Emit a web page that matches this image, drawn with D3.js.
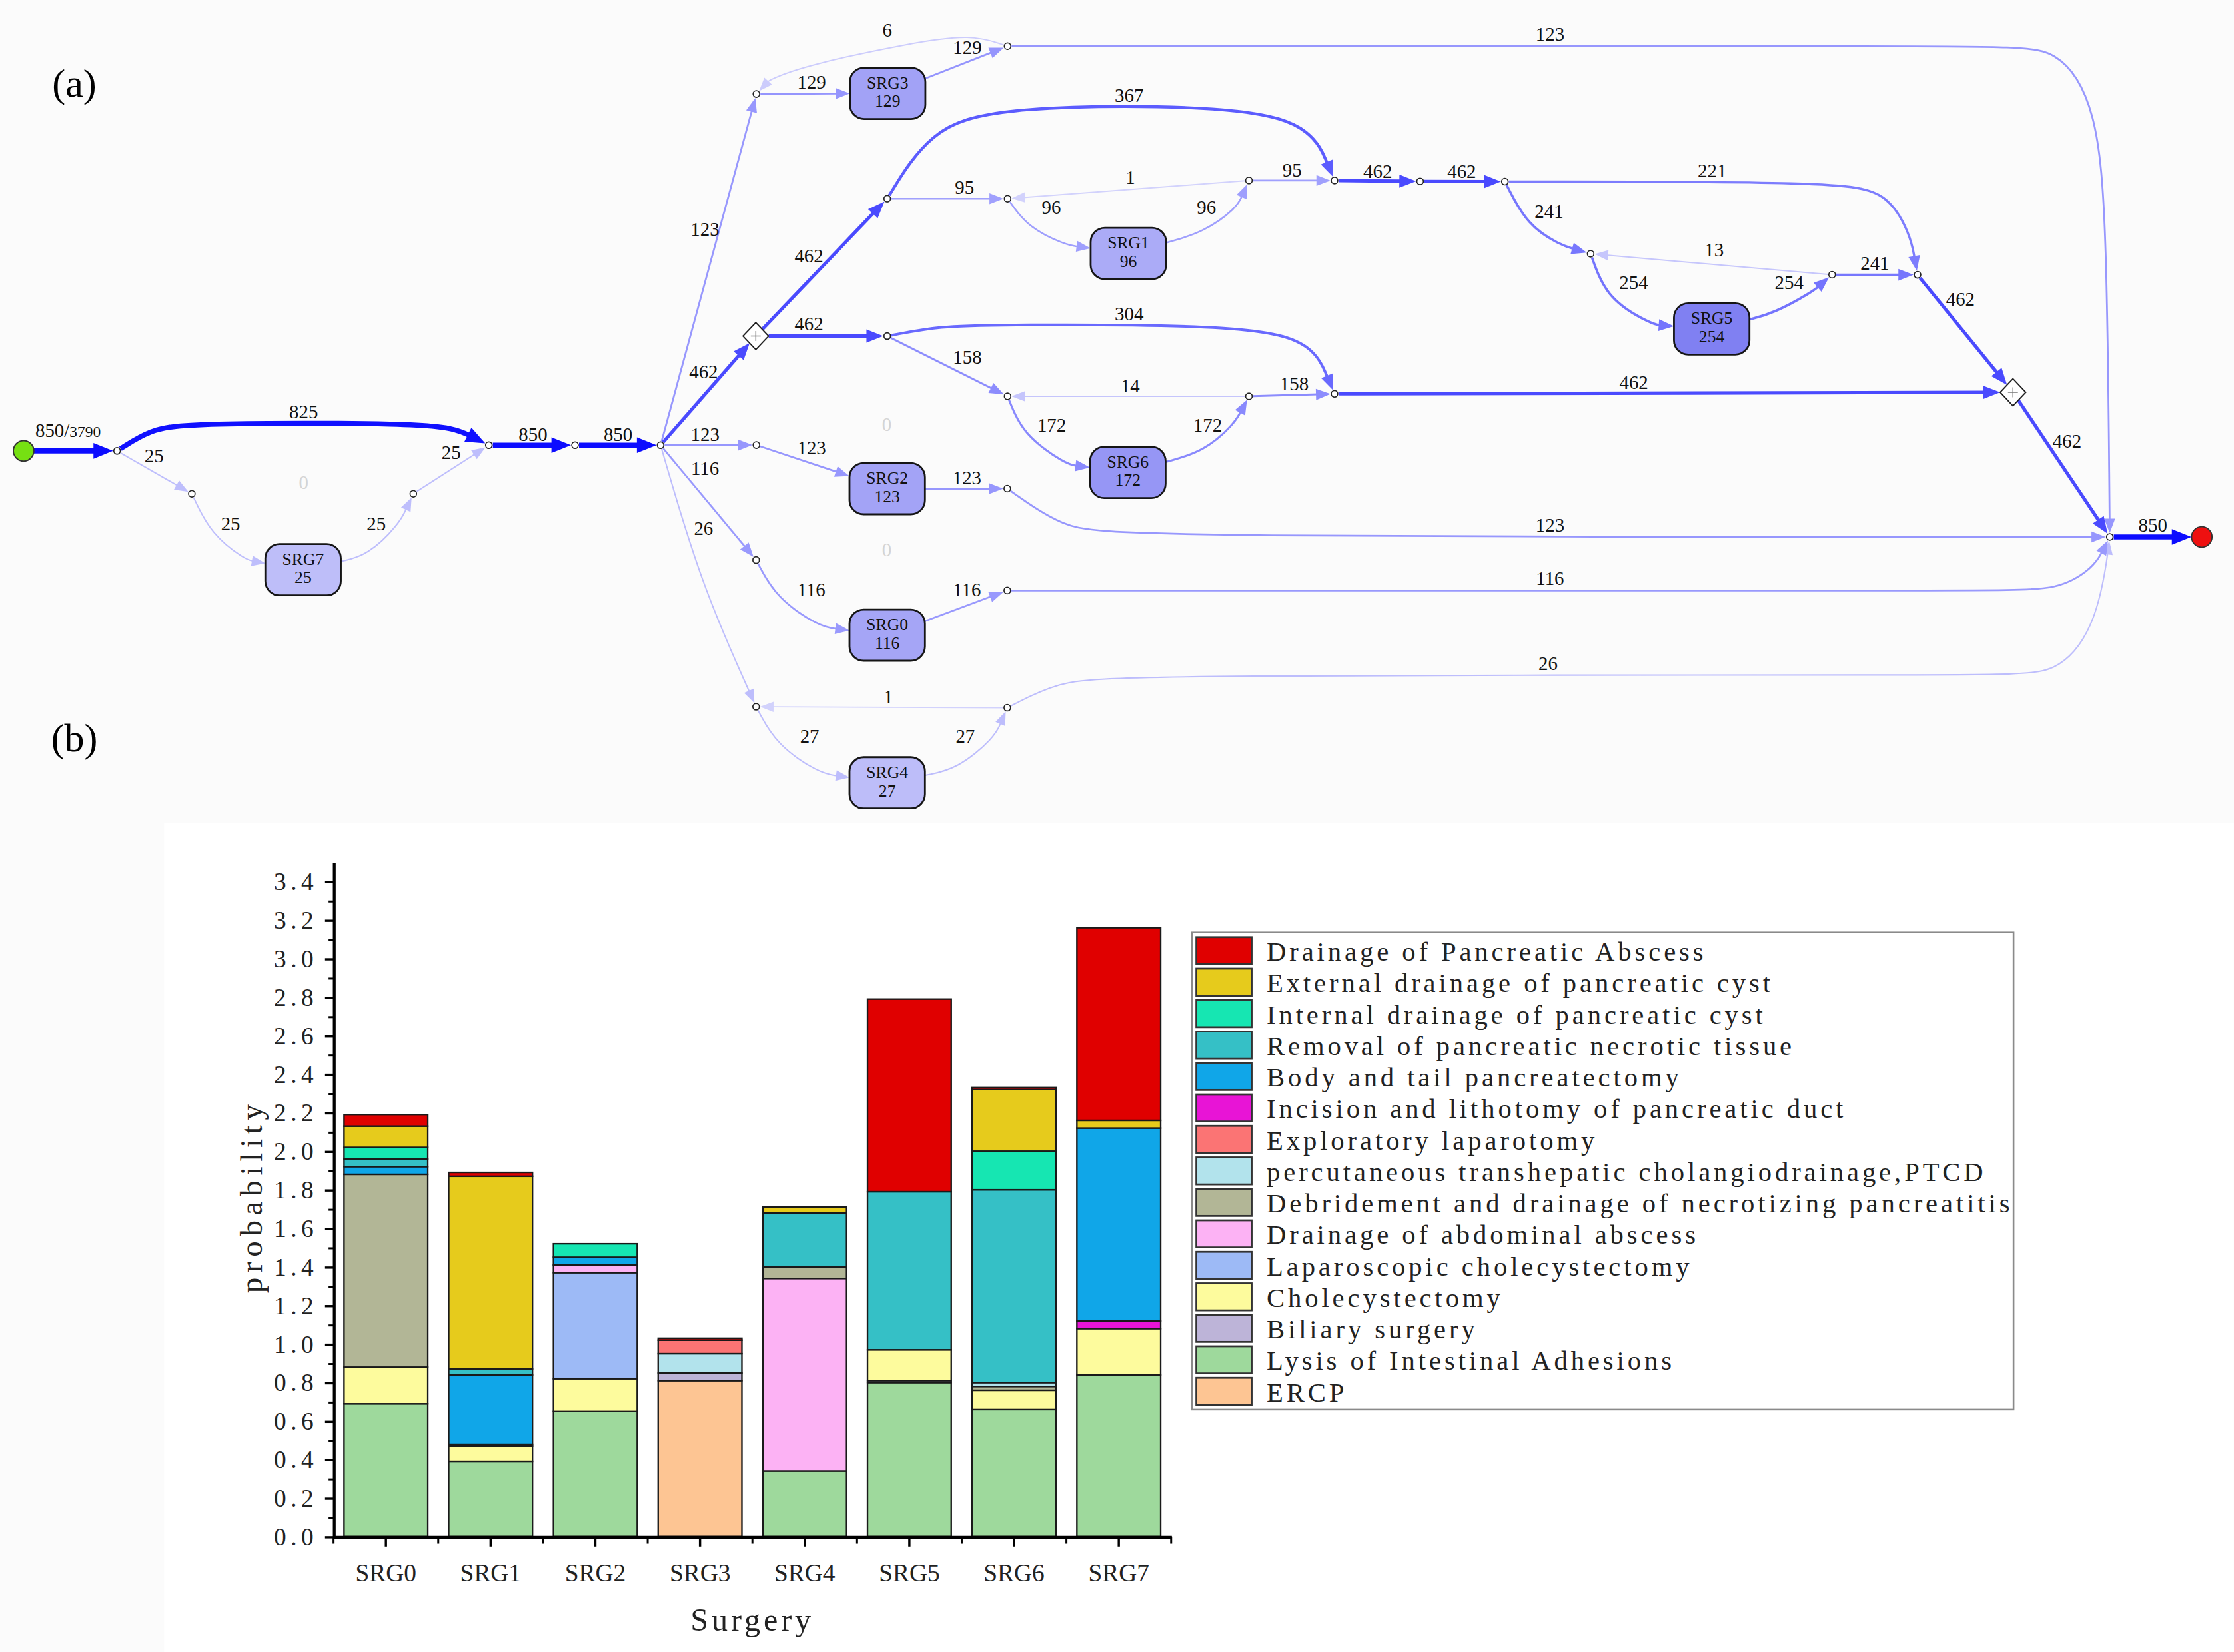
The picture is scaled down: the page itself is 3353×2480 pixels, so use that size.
<!DOCTYPE html>
<html>
<head>
<meta charset="utf-8">
<script src="https://cdn.jsdelivr.net/npm/d3@7"></script>
<style>
body { margin: 0; background: #fbfbfb; }
svg { display: block; }
</style>
</head>
<body>
<script>
// ---- (b) stacked bars: probability of each procedure per surgery cluster
var surgeries = ["SRG0", "SRG1", "SRG2", "SRG3", "SRG4", "SRG5", "SRG6", "SRG7"];
var procedures = [
	"Drainage of Pancreatic Abscess",
	"External drainage of pancreatic cyst",
	"Internal drainage of pancreatic cyst",
	"Removal of pancreatic necrotic tissue",
	"Body and tail pancreatectomy",
	"Incision and lithotomy of pancreatic duct",
	"Exploratory laparotomy",
	"percutaneous transhepatic cholangiodrainage,PTCD",
	"Debridement and drainage of necrotizing pancreatitis",
	"Drainage of abdominal abscess",
	"Laparoscopic cholecystectomy",
	"Cholecystectomy",
	"Biliary surgery",
	"Lysis of Intestinal Adhesions",
	"ERCP"
];
var procColors = ["#e00000", "#e6cb1c", "#16e6b2", "#35c0c6", "#10a6e8", "#e814d6", "#fb7474",
	"#b2e3ec", "#b2b696", "#fcb2f4", "#9dbaf6", "#fdfb9d", "#bdb4d8", "#9ed99c", "#fdc593"];
//one row per procedure, one value per surgery (SRG0..SRG7)
var probValues = [
	[0.06, 0.02, 0,    0.01, 0,    1.00, 0.01, 1.00],
	[0.11, 1.00, 0,    0,    0.03, 0,    0.32, 0.04],
	[0.06, 0,    0.07, 0,    0,    0,    0.20, 0],
	[0.04, 0.03, 0,    0,    0.28, 0.82, 1.00, 0],
	[0.04, 0.36, 0.04, 0,    0,    0,    0,    1.00],
	[0,    0,    0,    0,    0,    0,    0,    0.04],
	[0,    0,    0,    0.07, 0,    0,    0,    0],
	[0,    0,    0,    0.10, 0,    0,    0.02, 0],
	[1.00, 0.01, 0,    0,    0.06, 0,    0.02, 0],
	[0,    0,    0.04, 0,    1.00, 0,    0,    0],
	[0,    0,    0.55, 0,    0,    0,    0,    0],
	[0.19, 0.08, 0.17, 0,    0,    0.16, 0.10, 0.24],
	[0,    0,    0,    0.04, 0,    0.01, 0,    0],
	[0.69, 0.39, 0.65, 0,    0.34, 0.80, 0.66, 0.84],
	[0,    0,    0,    0.81, 0,    0,    0,    0]
];
var yTickValues = [0, 0.2, 0.4, 0.6, 0.8, 1.0, 1.2, 1.4, 1.6, 1.8, 2.0, 2.2, 2.4, 2.6, 2.8, 3.0, 3.2, 3.4];
var yMinorValues = [0.1, 0.3, 0.5, 0.7, 0.9, 1.1, 1.3, 1.5, 1.7, 1.9, 2.1, 2.3, 2.5, 2.7, 2.9, 3.1, 3.3];

// ---- (a) process map: cases per surgery cluster and per arc
var totalTraces = 3790;
var clusterCases = {SRG0: 116, SRG1: 96, SRG2: 123, SRG3: 129, SRG4: 27, SRG5: 254, SRG6: 172, SRG7: 25};
var edges = [
	["start", "a0", 850], ["a0", "a3", 825], ["a0", "a1", 25], ["a1", "SRG7", 25], ["SRG7", "a2", 25],
	["a2", "a3", 25], ["a3", "a4", 850], ["a4", "a5", 850],
	["a5", "b1", 123], ["b1", "SRG3", 129], ["SRG3", "b2", 129], ["b2", "b1", 6], ["b2", "z", 123],
	["a5", "D1", 462], ["D1", "c1", 462], ["c1", "c4", 367], ["c1", "c2", 95], ["c2", "SRG1", 96],
	["SRG1", "c3", 96], ["c3", "c2", 1], ["c3", "c4", 95], ["c4", "c5", 462], ["c5", "c6", 462],
	["c6", "e1", 241], ["c6", "e3", 221], ["e1", "SRG5", 254], ["SRG5", "e2", 254], ["e2", "e1", 13],
	["e2", "e3", 241], ["e3", "D2", 462],
	["D1", "d1", 462], ["d1", "d4", 304], ["d1", "d2", 158], ["d2", "SRG6", 172], ["SRG6", "d3", 172],
	["d3", "d2", 14], ["d3", "d4", 158], ["d4", "D2", 462], ["D2", "z", 462], ["z", "end", 850],
	["a5", "f1", 123], ["f1", "SRG2", 123], ["SRG2", "f2", 123], ["f2", "z", 123],
	["a5", "g1", 116], ["g1", "SRG0", 116], ["SRG0", "g2", 116], ["g2", "z", 116],
	["a5", "h1", 26], ["h1", "SRG4", 27], ["SRG4", "h2", 27], ["h2", "h1", 1], ["h2", "z", 26]
];

// ---- layout of the process map (drawing coordinates, 1568 x 1160 view)
var nodePos = {
	start: [16.4, 316.6], a0: [82, 316.6], a1: [134.5, 346.7], SRG7: [212.6, 400], a2: [290, 346.7],
	a3: [343, 312.6], a4: [403.5, 312.6], a5: [463.5, 312.6],
	b1: [530.8, 66], SRG3: [623, 65.5], b2: [707.2, 32.4],
	D1: [530.4, 236], c1: [622.7, 139.5], c2: [707.2, 139.5], SRG1: [792, 178], c3: [876.6, 126.7],
	c4: [936.7, 126.7], c5: [996.8, 127.3], c6: [1056.3, 127.5], e1: [1116.5, 178.2], SRG5: [1201.5, 231],
	e2: [1286, 192.9], e3: [1346, 193], D2: [1413, 275.5],
	d1: [622.7, 236], d2: [707.2, 278.3], SRG6: [791.6, 331.7], d3: [876.6, 278.3], d4: [936.7, 276.6],
	f1: [530.8, 312.5], SRG2: [622.7, 343.1], f2: [707, 343.1],
	g1: [530.6, 393.2], SRG0: [622.7, 446], g2: [707, 414.6],
	h1: [530.6, 496.3], SRG4: [622.7, 549.7], h2: [707, 497],
	z: [1481, 377], end: [1545.6, 377]
};
var edgeVia = {
	"a0>a3": [[105, 302], [130, 297], [297, 297], [322, 302]],
	"a1>SRG7": [[148, 375], [172, 393]],
	"SRG7>a2": [[258, 390], [280, 368]],
	"b2>b1": [[682, 24], [640, 30], [565, 46], [540, 56]],
	"b2>z": [[1400, 32.4], [1445, 32.4], [1472, 75], [1479, 160]],
	"c1>c4": [[652, 92], [700, 74], [880, 74], [922, 92]],
	"c2>SRG1": [[722, 160], [748, 172]],
	"SRG1>c3": [[845, 163], [868, 146]],
	"c6>e1": [[1072, 158], [1095, 172]],
	"c6>e3": [[1290, 127.5], [1325, 135], [1341, 165]],
	"e1>SRG5": [[1128, 210], [1160, 228]],
	"SRG5>e2": [[1245, 220], [1272, 205]],
	"d1>d4": [[660, 229], [700, 228], [880, 228], [922, 242]],
	"d2>SRG6": [[718, 305], [748, 326]],
	"SRG6>d3": [[845, 317], [866, 298]],
	"f2>z": [[745, 370], [785, 377]],
	"g1>SRG0": [[545, 420], [575, 440]],
	"g2>z": [[1400, 414.6], [1445, 414.6], [1470, 398]],
	"a5>h1": [[492, 410]],
	"h1>SRG4": [[545, 523], [575, 543]],
	"SRG4>h2": [[672, 540], [698, 518]],
	"h2>z": [[742, 479], [785, 474], [1400, 474], [1445, 474], [1470, 440], [1478, 400]]
};
var labelPos = {
	"start>a0": [47.6, 302], "a0>a3": [213, 289], "a0>a1": [108, 320], "a1>SRG7": [161.7, 367.5],
	"SRG7>a2": [264, 367.5], "a2>a3": [316.6, 317.5], "a3>a4": [374, 305], "a4>a5": [433.7, 305],
	"a5>b1": [494.7, 160.7], "b1>SRG3": [569.6, 57.4], "SRG3>b2": [679, 33], "b2>b1": [622.7, 21],
	"b2>z": [1088, 24], "a5>D1": [493.7, 261], "D1>c1": [567.7, 179.5], "c1>c4": [792.5, 66.8],
	"c1>c2": [677, 131.5], "c2>SRG1": [737.9, 145.5], "SRG1>c3": [846.8, 145.5], "c3>c2": [793.3, 124.6],
	"c3>c4": [906.9, 119], "c4>c5": [967, 120], "c5>c6": [1026, 120], "c6>e1": [1087.3, 148.3],
	"c6>e3": [1201.8, 119.7], "e1>SRG5": [1146.7, 198.5], "SRG5>e2": [1255.8, 198.5], "e2>e1": [1203.2, 175.5],
	"e2>e3": [1316, 184.7], "e3>D2": [1376.1, 210], "D1>d1": [567.7, 227.5], "d1>d4": [792.5, 220.2],
	"d1>d2": [679, 250.5], "d2>SRG6": [738.2, 298.5], "SRG6>d3": [847.6, 298.5], "d3>d2": [793.3, 270.8],
	"d3>d4": [908.4, 269.3], "d4>D2": [1146.8, 268.3], "D2>z": [1451, 309.4], "z>end": [1511.2, 368.4],
	"a5>f1": [494.8, 304.8], "f1>SRG2": [569.6, 314.2], "SRG2>f2": [678.7, 335.2], "f2>z": [1088, 368.4],
	"a5>g1": [494.7, 329], "g1>SRG0": [569.4, 414], "SRG0>g2": [678.7, 414], "g2>z": [1088, 405.8],
	"a5>h1": [493.7, 370.7], "h1>SRG4": [568.2, 517], "SRG4>h2": [677.5, 517], "h2>h1": [623.6, 489.2],
	"h2>z": [1086.6, 465.8]
};
var zeroLabelPos = [[213, 338.6], [622.4, 297.7], [622.4, 385.8]];

var serif = "'Liberation Serif', 'Times New Roman', serif";

var svg = d3.select("body")
	.append("svg")
	.attr("width", 3353)
	.attr("height", 2480)
	.attr("viewBox", "0 0 1568 1160");

svg.append("rect").attr("x", 115).attr("y", 578).attr("width", 1453).attr("height", 582).attr("fill", "#ffffff");

svg.selectAll(".panelTag")
	.data([["(a)", 58], ["(b)", 518]])
	.enter()
	.append("text")
	.attr("class", "panelTag")
	.attr("x", 52).attr("y", function(d){ return d[1]; })
	.attr("dy", "0.35em")
	.attr("text-anchor", "middle")
	.style("font-family", serif)
	.style("font-size", "28px")
	.text(function(d){ return d[0]; });

//==================== (a) process map ====================
var edgeColor = d3.scalePow().exponent(0.6).domain([0, 850]).range(["#d6d6fc", "#0c0cff"]);
var edgeWidth = d3.scaleLinear().domain([0, 850]).range([0.9, 3.6]);
var boxColor = d3.scaleLinear().domain([25, 254]).range(["#bebef9", "#8080f2"]);

var nodeKind = function(id){
	if(id == "start" || id == "end") return "terminal";
	if(id.indexOf("SRG") == 0) return "box";
	if(id == "D1" || id == "D2") return "diamond";
	return "dot";
};

//point on the border of a node, looking from its centre towards p
var clip = function(id, p){
	var c = nodePos[id], dx = p[0] - c[0], dy = p[1] - c[1];
	var len = Math.sqrt(dx * dx + dy * dy) || 1;
	var kind = nodeKind(id), t;
	if(kind == "box"){
		t = Math.min(26.5 / Math.abs(dx || 1e-6), 18 / Math.abs(dy || 1e-6));
		return [c[0] + dx * t, c[1] + dy * t];
	}
	if(kind == "diamond"){
		t = 1 / (Math.abs(dx) / 9 + Math.abs(dy) / 9.5);
		return [c[0] + dx * t, c[1] + dy * t];
	}
	var r = kind == "terminal" ? 7.3 : 2.8;
	return [c[0] + dx / len * r, c[1] + dy / len * r];
};

var line = d3.line().curve(d3.curveBasis);

var edgeData = edges.map(function(e){
	var key = e[0] + ">" + e[1];
	var via = edgeVia[key] || [];
	var first = via.length ? via[0] : nodePos[e[1]];
	var last = via.length ? via[via.length - 1] : nodePos[e[0]];
	var p0 = clip(e[0], first), p1 = clip(e[1], last);
	var w = edgeWidth(e[2]);
	var dx = p1[0] - last[0], dy = p1[1] - last[1];
	var l = Math.sqrt(dx * dx + dy * dy);
	var ux = dx / l, uy = dy / l;
	var aLen = 8 + 1.6 * w, aHalf = 3 + 0.7 * w;
	var base = [p1[0] - ux * aLen * 0.85, p1[1] - uy * aLen * 0.85];
	var pts = [p0].concat(via).concat([base]);
	var head = [
		p1,
		[p1[0] - ux * aLen - uy * aHalf, p1[1] - uy * aLen + ux * aHalf],
		[p1[0] - ux * aLen + uy * aHalf, p1[1] - uy * aLen - ux * aHalf]
	];
	return {key: key, count: e[2], pts: pts, head: head, w: w};
}).sort(function(a, b){ return a.count - b.count; });

var gEdges = svg.append("g");
var edgeG = gEdges.selectAll("g")
	.data(edgeData)
	.enter()
	.append("g");
edgeG.append("path")
	.attr("d", function(d){ return line(d.pts); })
	.style("fill", "none")
	.style("stroke", function(d){ return edgeColor(d.count); })
	.style("stroke-width", function(d){ return d.w; });
edgeG.append("path")
	.attr("d", function(d){ return "M" + d.head.join("L") + "Z"; })
	.style("fill", function(d){ return edgeColor(d.count); });

//nodes
var nodeIds = Object.keys(nodePos);
var gNodes = svg.append("g");
nodeIds.forEach(function(id){
	var p = nodePos[id], kind = nodeKind(id);
	if(kind == "dot"){
		gNodes.append("circle").attr("cx", p[0]).attr("cy", p[1]).attr("r", 2.3)
			.style("fill", "#fff").style("stroke", "#222").style("stroke-width", 0.8);
	} else if(kind == "terminal"){
		gNodes.append("circle").attr("cx", p[0]).attr("cy", p[1]).attr("r", 7.2)
			.style("fill", id == "start" ? "#76e012" : "#ee1010")
			.style("stroke", "#333").style("stroke-width", 0.9);
	} else if(kind == "diamond"){
		gNodes.append("path")
			.attr("d", "M" + p[0] + "," + (p[1] - 9.5) + "L" + (p[0] + 9) + "," + p[1] + "L" + p[0] + "," + (p[1] + 9.5) + "L" + (p[0] - 9) + "," + p[1] + "Z")
			.style("fill", "#fff").style("stroke", "#222").style("stroke-width", 0.9);
		gNodes.append("path")
			.attr("d", "M" + (p[0] - 3.5) + "," + p[1] + "H" + (p[0] + 3.5) + "M" + p[0] + "," + (p[1] - 3.5) + "V" + (p[1] + 3.5))
			.style("stroke", "#777").style("stroke-width", 0.7);
	} else {
		gNodes.append("rect")
			.attr("x", p[0] - 26.5).attr("y", p[1] - 18).attr("width", 53).attr("height", 36)
			.attr("rx", 10).attr("ry", 10)
			.style("fill", boxColor(clusterCases[id]))
			.style("stroke", "#151515").style("stroke-width", 1.3);
		gNodes.append("text").attr("x", p[0]).attr("y", p[1] - 3.5)
			.attr("text-anchor", "middle")
			.style("font-family", serif).style("font-size", "12px").style("fill", "#111")
			.text(id);
		gNodes.append("text").attr("x", p[0]).attr("y", p[1] + 9.5)
			.attr("text-anchor", "middle")
			.style("font-family", serif).style("font-size", "12px").style("fill", "#111")
			.text(clusterCases[id]);
	}
});

//arc labels
var gLabels = svg.append("g")
	.style("font-family", serif)
	.style("font-size", "13.5px")
	.style("fill", "#111");
edges.forEach(function(e){
	var key = e[0] + ">" + e[1], p = labelPos[key];
	var t = gLabels.append("text")
		.attr("x", p[0]).attr("y", p[1])
		.attr("dy", "0.35em")
		.attr("text-anchor", "middle");
	if(key == "start>a0"){
		t.append("tspan").text(e[2] + "/");
		t.append("tspan").style("font-size", "11px").text(totalTraces);
	} else {
		t.text(e[2]);
	}
});
gLabels.selectAll(".zero")
	.data(zeroLabelPos)
	.enter()
	.append("text")
	.attr("class", "zero")
	.attr("x", function(d){ return d[0]; })
	.attr("y", function(d){ return d[1]; })
	.attr("dy", "0.35em")
	.attr("text-anchor", "middle")
	.style("fill", "#d4d4d4")
	.text("0");

//==================== (b) stacked bar chart ====================
var x = d3.scaleBand()
	.domain(surgeries)
	.range([234, 822])
	.paddingInner(0.2)
	.paddingOuter(0.1);
var y = d3.scaleLinear().domain([0, 3.5]).range([1079, 605.4]);

var rows = surgeries.map(function(s, i){
	var r = {surgery: s};
	procedures.forEach(function(p, j){ r[p] = probValues[j][i]; });
	return r;
});
var colorOf = d3.scaleOrdinal().domain(procedures).range(procColors);
var stacked = d3.stack().keys(procedures.slice().reverse())(rows);

var gBars = svg.append("g");
gBars.selectAll("g")
	.data(stacked)
	.enter()
	.append("g")
	.style("fill", function(d){ return colorOf(d.key); })
	.selectAll("rect")
	.data(function(d){ return d.filter(function(v){ return v[1] - v[0] > 1e-6; }); })
	.enter()
	.append("rect")
	.attr("x", function(d){ return x(d.data.surgery); })
	.attr("width", x.bandwidth())
	.attr("y", function(d){ return y(d[1]); })
	.attr("height", function(d){ return y(d[0]) - y(d[1]); })
	.style("stroke", "#1a1a1a")
	.style("stroke-width", 1.1);

//y axis with minor ticks
var yAxis = svg.append("g")
	.attr("transform", "translate(234,0)")
	.call(d3.axisLeft(y).tickValues(yTickValues).tickFormat(d3.format(".1f")).tickSize(6).tickSizeOuter(0).tickPadding(5));
yAxis.select(".domain").style("stroke-width", 2);
yAxis.selectAll(".tick line").style("stroke-width", 1.6);
yAxis.selectAll("text")
	.style("font-family", serif).style("font-size", "17.5px").style("letter-spacing", "3px").style("fill", "#222");
var yMinor = svg.append("g")
	.attr("transform", "translate(234,0)")
	.call(d3.axisLeft(y).tickValues(yMinorValues).tickFormat("").tickSize(3.5).tickSizeOuter(0));
yMinor.select(".domain").remove();
yMinor.selectAll(".tick line").style("stroke-width", 1.4);

//x axis, ticks at centres and at band boundaries
var xAxis = svg.append("g")
	.attr("transform", "translate(0,1079)")
	.call(d3.axisBottom(x).tickSize(7).tickSizeOuter(0).tickPadding(12));
xAxis.select(".domain").style("stroke-width", 2);
xAxis.selectAll(".tick line").style("stroke-width", 1.6);
xAxis.selectAll("text")
	.style("font-family", serif).style("font-size", "17.5px").style("fill", "#222");
var bounds = surgeries.map(function(s){ return x(s) + x.bandwidth() / 2 - x.step() / 2; });
bounds.push(x.range()[1]);
xAxis.selectAll(".bound")
	.data(bounds)
	.enter()
	.append("line")
	.attr("class", "bound")
	.attr("x1", function(d){ return d; }).attr("x2", function(d){ return d; })
	.attr("y1", 0).attr("y2", 5)
	.style("stroke", "#000").style("stroke-width", 1.4);

svg.append("text")
	.attr("transform", "translate(176,840) rotate(-90)")
	.attr("text-anchor", "middle")
	.attr("dy", "0.35em")
	.style("font-family", serif).style("font-size", "22px").style("letter-spacing", "3.6px").style("fill", "#222")
	.text("probability");
svg.append("text")
	.attr("x", 528).attr("y", 1137)
	.attr("dy", "0.35em")
	.attr("text-anchor", "middle")
	.style("font-family", serif).style("font-size", "22.5px").style("letter-spacing", "2.3px").style("fill", "#222")
	.text("Surgery");

//legend
var legend = svg.append("g");
legend.append("rect")
	.attr("x", 836.6).attr("y", 654.7).attr("width", 576.8).attr("height", 335)
	.style("fill", "#fff").style("stroke", "#8a8a8a").style("stroke-width", 1.2);
var item = legend.selectAll(".item")
	.data(procedures)
	.enter()
	.append("g")
	.attr("class", "item")
	.attr("transform", function(d, i){ return "translate(0," + (658 + i * 22.1) + ")"; });
item.append("rect")
	.attr("x", 839.7).attr("y", 0).attr("width", 38.8).attr("height", 19)
	.style("fill", function(d){ return colorOf(d); })
	.style("stroke", "#333").style("stroke-width", 1.3);
item.append("text")
	.attr("x", 889).attr("y", 16.5)
	.style("font-family", serif).style("font-size", "19px").style("letter-spacing", "2.3px").style("fill", "#222")
	.text(function(d){ return d; });
</script>
</body>
</html>
